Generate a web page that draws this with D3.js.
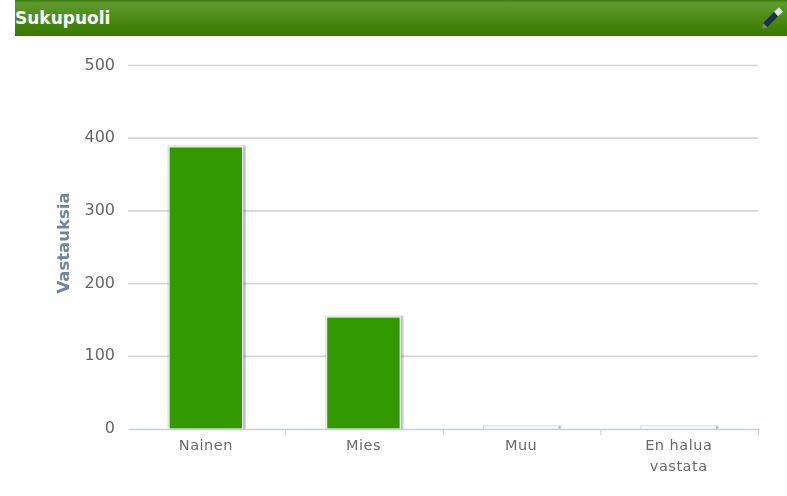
<!DOCTYPE html>
<html><head><meta charset="utf-8">
<script src="https://cdn.jsdelivr.net/npm/d3@7"></script>
<style>html,body{margin:0;padding:0;background:#fff;overflow:hidden}svg{filter:blur(0.4px)}</style>
</head><body><script>
const categories = [["Nainen"],["Mies"],["Muu"],["En halua","vastata"]];
const values = [388,154,3,3];
const yTicks = [0,100,200,300,400,500];
const titleText = "Sukupuoli";
const yTitle = "Vastauksia";
const W=787,H=496;
const svg=d3.select("body").append("svg").attr("width",W).attr("height",H).style("display","block");
const defs=svg.append("defs");
const g=defs.append("linearGradient").attr("id","hd").attr("x1",0).attr("x2",0).attr("y1",0).attr("y2",1);
[[0,"#3c7a0c"],[0.08,"#5f9a2e"],[0.9,"#3b7c00"],[1,"#3b7c00"]].forEach(s=>g.append("stop").attr("offset",s[0]).attr("stop-color",s[1]));
defs.append("clipPath").attr("id","plot").append("rect").attr("x",100).attr("y",40).attr("width",680).attr("height",389);
svg.append("rect").attr("x",15).attr("y",0).attr("width",W-15).attr("height",36).attr("fill","url(#hd)");
svg.append("text").attr("x",15).attr("y",24).attr("font-family","'DejaVu Sans',sans-serif").attr("font-weight",700).attr("font-size",17).attr("fill","#fff").text(titleText);
// pen icon
const pen=svg.append("g");
pen.append("line").attr("x1",765).attr("y1",25.5).attr("x2",777).attr("y2",13).attr("stroke","#1d3050").attr("stroke-width",6);
pen.append("line").attr("x1",776).attr("y1",14).attr("x2",781).attr("y2",9.5).attr("stroke","#dfe3e8").attr("stroke-width",6);
pen.append("path").attr("d","M762,28.5 L763,23 L768,27.5 Z").attr("fill","#7a8a70");

const x=d3.scaleBand().domain(categories.map(d=>d.join(" "))).range([128,758.5]);
const y=d3.scaleLinear().domain([0,500]).range([429,65.5]);
const font="'DejaVu Sans',sans-serif";
const grid=svg.append("g");
grid.selectAll("line").data(yTicks.filter(t=>t>0)).join("line")
 .attr("x1",128).attr("x2",758).attr("y1",d=>y(d)).attr("y2",d=>y(d)).attr("stroke","#d6d6d6").attr("stroke-width",1.7);
const barW=73.5;
const names=categories.map(d=>d.join(" "));
const bx=d=>x(d)+x.bandwidth()/2-barW/2-1;
const bars=svg.append("g").attr("clip-path","url(#plot)");
[3,2,1].forEach(k=>{
 bars.selectAll(null).data(names).join("rect")
  .attr("x",d=>bx(d)+1).attr("y",(d,i)=>y(values[i])+1).attr("width",barW).attr("height",(d,i)=>y(0)-y(values[i]))
  .attr("fill","none").attr("stroke","#000").attr("stroke-opacity",0.05*k).attr("stroke-width",k*2-1);
});
bars.selectAll(null).data(names).join("rect")
 .attr("x",d=>bx(d)).attr("y",(d,i)=>y(values[i])).attr("width",barW).attr("height",(d,i)=>y(0)-y(values[i]))
 .attr("fill",(d,i)=>values[i]>10?"#339900":"#f8f8f8").attr("stroke","#fff").attr("stroke-width",1);
const ax=svg.append("g").attr("transform",`translate(0,${y(0)})`)
 .call(d3.axisBottom(x).tickValues([]).tickSize(0).tickSizeOuter(0));
ax.select(".domain").attr("stroke","#c0d0e0").attr("stroke-width",1.5);
const edges=names.map(n=>x(n)).concat([758.5]).slice(1);
svg.append("g").selectAll("line").data(edges).join("line")
 .attr("x1",d=>d).attr("x2",d=>d).attr("y1",y(0)).attr("y2",y(0)+6).attr("stroke","#c0d0e0").attr("stroke-width",1);
const lab=svg.append("g").selectAll("text").data(categories).join("text")
 .attr("text-anchor","middle").attr("font-family",font).attr("font-size",14.5).attr("letter-spacing",0.5).attr("fill","#6a6a6a")
 .attr("transform",d=>`translate(${x(d.join(" "))+x.bandwidth()/2-1},450)`);
lab.selectAll("tspan").data(d=>d).join("tspan").attr("x",0).attr("dy",(d,i)=>i?21:0).text(d=>d);
svg.append("g").selectAll("text").data(yTicks).join("text")
 .attr("x",115).attr("y",d=>y(d)+4).attr("text-anchor","end").attr("font-family",font).attr("font-size",16).attr("fill","#666").text(d=>d);
svg.append("text").attr("transform","translate(69,243) rotate(-90)").attr("text-anchor","middle")
 .attr("font-family",font).attr("font-weight",700).attr("font-size",16.5).attr("fill","#6d869f").text(yTitle);
</script></body></html>
